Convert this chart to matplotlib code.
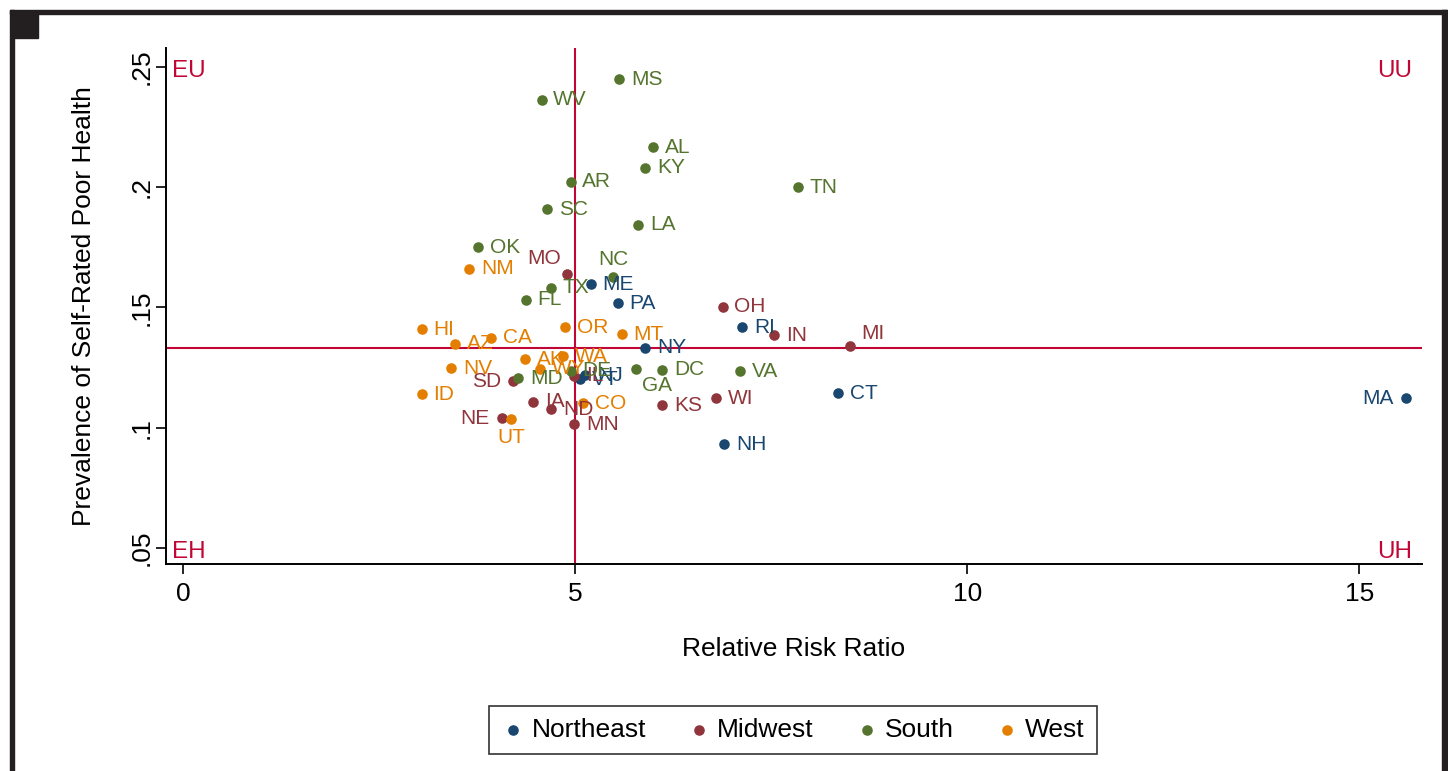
import matplotlib
matplotlib.use("Agg")
import matplotlib.pyplot as plt
from matplotlib.patches import Rectangle
import matplotlib.transforms as mtransforms

plt.rcParams['font.family'] = ['Liberation Sans', 'DejaVu Sans']

# --- data ---
regions = ["Northeast", "Midwest", "South", "West"]
colors = ["#1a476f", "#90353b", "#55752f", "#e37e00"]

ne_states = ["MA", "CT", "NH", "RI", "NY", "PA", "ME", "VT", "NJ"]
ne_rr = [15.59, 8.35, 6.90, 7.13, 5.89, 5.54, 5.20, 5.06, 5.13]
ne_prev = [0.1123, 0.1144, 0.0932, 0.1418, 0.1332, 0.1518, 0.1597, 0.1201, 0.1219]

mw_states = ["MI", "IN", "OH", "WI", "KS", "MN", "ND", "IA", "NE", "SD", "MO", "IL"]
mw_rr = [8.51, 7.54, 6.88, 6.80, 6.11, 4.99, 4.69, 4.46, 4.06, 4.21, 4.89, 4.99]
mw_prev = [0.1339, 0.1385, 0.1502, 0.1123, 0.1094, 0.1015, 0.1077, 0.1107, 0.1040, 0.1194, 0.1639, 0.1215]

so_states = ["MS", "WV", "AL", "KY", "TN", "AR", "SC", "LA", "OK", "NC", "TX", "FL",
             "DC", "GA", "VA", "MD", "DE"]
so_rr = [5.56, 4.57, 5.99, 5.89, 7.84, 4.94, 4.64, 5.80, 3.76, 5.48, 4.69, 4.37,
         6.11, 5.78, 7.10, 4.27, 4.94]
so_prev = [0.2450, 0.2363, 0.2167, 0.2080, 0.2000, 0.2022, 0.1909, 0.1843, 0.1751, 0.1626,
           0.1581, 0.1531, 0.1240, 0.1244, 0.1235, 0.1206, 0.1236]

we_states = ["NM", "HI", "AZ", "CA", "OR", "MT", "NV", "ID", "AK", "WA", "WY", "CO", "UT"]
we_rr = [3.65, 3.04, 3.47, 3.93, 4.87, 5.59, 3.42, 3.04, 4.36, 4.84, 4.55, 5.10, 4.18]
we_prev = [0.1660, 0.1410, 0.1348, 0.1373, 0.1418, 0.1389, 0.1248, 0.1140, 0.1285, 0.1298,
           0.1244, 0.1102, 0.1036]

ref_rr = 5.0
ref_prev = 0.1331

# label position per state (default: right of marker)
label_pos = {"MA": "l", "NE": "l", "SD": "l", "MO": "ul", "NC": "u",
             "GA": "dr", "UT": "d", "MI": "ur"}
pos_offsets = {
    "r": ((8.5, 0), "left"),
    "l": ((-8.5, 0), "right"),
    "u": ((0, 13), "center"),
    "d": ((0, -13.5), "center"),
    "ul": ((-16.5, 11.5), "center"),
    "ur": ((16, 9), "center"),
    "dr": ((15, -12), "center"),
}

groups = [(ne_states, ne_rr, ne_prev), (mw_states, mw_rr, mw_prev),
          (so_states, so_rr, so_prev), (we_states, we_rr, we_prev)]

fig = plt.figure(figsize=(14.48, 7.71), dpi=100)
ax = fig.add_axes([166 / 1448, 1 - 564 / 771, (1422 - 166) / 1448, (564 - 48) / 771])

crimson = "#c10534"
ax.axvline(ref_rr, color=crimson, lw=1.5, zorder=1)
ax.axhline(ref_prev, color=crimson, lw=1.5, zorder=1)

for (states, rr, prev), name, col in zip(groups, regions, colors):
    ax.scatter(rr, prev, s=58, color=col, label=name, zorder=3, linewidths=0)
    for st, x, y in zip(states, rr, prev):
        off, ha = pos_offsets[label_pos.get(st, "r")]
        ax.annotate(st, (x, y), xytext=off, textcoords="offset points",
                    ha=ha, va="center", fontsize=15, color=col, zorder=4)

ax.set_xlim(-0.22, 15.8)
ax.set_ylim(0.0433, 0.2579)
ax.set_xticks([0, 5, 10, 15])
ax.set_yticks([0.05, 0.1, 0.15, 0.2, 0.25])
ax.set_yticklabels([".05", ".1", ".15", ".2", ".25"], rotation=90, va="center")
ax.tick_params(axis="both", direction="out", length=7, width=1.2, labelsize=19, pad=6)
ax.tick_params(axis="y", pad=2)
for side in ["top", "right"]:
    ax.spines[side].set_visible(False)
for side in ["left", "bottom"]:
    ax.spines[side].set_linewidth(1.4)

ax.set_xlabel("Relative Risk Ratio", fontsize=19, labelpad=22)
ax.set_ylabel("Prevalence of Self-Rated Poor Health", fontsize=19, labelpad=24)

# quadrant labels
trans = mtransforms.blended_transform_factory(ax.transAxes, ax.transData)
qkw = dict(transform=trans, va="center_baseline", fontsize=17.5, color=crimson)
ax.text(0.005, 0.2495, "EU", ha="left", **qkw)
ax.text(0.992, 0.2495, "UU", ha="right", **qkw)
ax.text(0.005, 0.0495, "EH", ha="left", **qkw)
ax.text(0.992, 0.0495, "UH", ha="right", **qkw)

leg = fig.legend(loc="center", bbox_to_anchor=(793 / 1448, 1 - 730 / 771), ncol=4,
                 fontsize=19, frameon=True, fancybox=False, edgecolor="black",
                 markerscale=1.0, handletextpad=0.25, columnspacing=1.55,
                 borderpad=0.45, handlelength=0.9)
leg.get_frame().set_linewidth(1.2)

# outer frame of the cropped graph
fig.patches.append(Rectangle((10 / 1448, 0), 4 / 1448, 1 - 10 / 771, transform=fig.transFigure,
                             color="#231f20", zorder=0))
fig.patches.append(Rectangle((10 / 1448, 1 - 14 / 771), (1447 - 10) / 1448, 4 / 771,
                             transform=fig.transFigure, color="#231f20", zorder=0))
fig.patches.append(Rectangle((1442 / 1448, 0), 5 / 1448, 1 - 10 / 771, transform=fig.transFigure,
                             color="#231f20", zorder=0))
fig.patches.append(Rectangle((14 / 1448, 1 - 38 / 771), 24 / 1448, 24 / 771,
                             transform=fig.transFigure, color="#231f20", zorder=0))

fig.savefig("out.png", dpi=100)
